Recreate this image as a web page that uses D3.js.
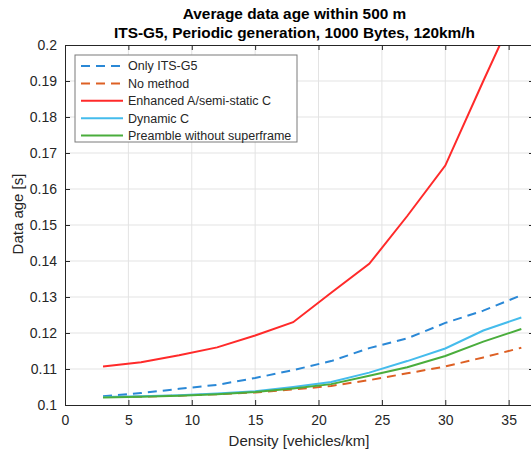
<html>
<style>
    body { margin: 0; background: #fff; }
    text { font-family: "Liberation Sans", Arial, sans-serif; fill: #262626; }
    .grid line { stroke: #e3e3e3; stroke-width: 1; }
</style>
<body>
<script src="https://d3js.org/d3.v7.min.js"></script>
<script>
// data
const density = [3, 6, 9, 12, 15, 18, 21, 24, 27, 30, 33, 36]
const onlyItsG5 = [0.1024, 0.1033, 0.1045, 0.1056, 0.1075, 0.1097, 0.1122, 0.1158, 0.1185, 0.1228, 0.1262, 0.1305]
const noMethod = [0.1022, 0.1023, 0.1026, 0.1030, 0.1035, 0.1043, 0.1053, 0.1069, 0.1088, 0.1107, 0.1132, 0.1159]
const enhancedA = [0.1107, 0.1119, 0.1138, 0.1160, 0.1193, 0.1230, 0.1312, 0.1392, 0.1525, 0.1665, 0.1900, 0.2130]
const dynamicC = [0.1022, 0.1024, 0.1027, 0.1032, 0.1038, 0.1050, 0.1064, 0.1090, 0.1122, 0.1157, 0.1207, 0.1243]
const preamble = [0.1021, 0.1023, 0.1026, 0.1030, 0.1036, 0.1046, 0.1058, 0.1081, 0.1105, 0.1136, 0.1176, 0.1211]

const seriesNames = ["Only ITS-G5", "No method", "Enhanced A/semi-static C", "Dynamic C", "Preamble without superframe"]
const seriesValues = [onlyItsG5, noMethod, enhancedA, dynamicC, preamble]
const seriesColors = ["#2a88d6", "#dd6024", "#ff2a2a", "#45bcec", "#4aad3c"]
const seriesDash = ["9,6", "9,6", null, null, null]

const xTicks = [0, 5, 10, 15, 20, 25, 30, 35]
const yTicks = [0.1, 0.11, 0.12, 0.13, 0.14, 0.15, 0.16, 0.17, 0.18, 0.19, 0.2]
const titleLines = ["Average data age within 500 m", "ITS-G5, Periodic generation, 1000 Bytes, 120km/h"]

const W = 531, H = 452
const plot = {left: 65, top: 45, right: 534, bottom: 405}

const svg = d3.select("body").append("svg")
    .attr("width", W).attr("height", H)

const x = d3.scaleLinear().domain([0, 37]).range([plot.left, plot.right])
const y = d3.scaleLinear().domain([0.1, 0.2]).range([plot.bottom, plot.top])

// grid
const grid = svg.append("g").attr("class", "grid")
grid.selectAll(".gx").data(xTicks.slice(1)).join("line")
    .attr("x1", d => x(d)).attr("x2", d => x(d))
    .attr("y1", plot.top).attr("y2", plot.bottom)
grid.selectAll(".gy").data(yTicks.slice(1, -1)).join("line")
    .attr("x1", plot.left).attr("x2", plot.right)
    .attr("y1", d => y(d)).attr("y2", d => y(d))

// clip for the lines
svg.append("clipPath").attr("id", "clip").append("rect")
    .attr("x", plot.left).attr("y", plot.top)
    .attr("width", plot.right - plot.left).attr("height", plot.bottom - plot.top)

const line = d3.line().x((d, i) => x(density[i])).y(d => y(d))
svg.append("g").attr("clip-path", "url(#clip)")
    .selectAll("path").data(seriesValues).join("path")
    .attr("d", line)
    .attr("fill", "none")
    .attr("stroke", (d, i) => seriesColors[i])
    .attr("stroke-width", 2)
    .attr("stroke-dasharray", (d, i) => seriesDash[i])

// axes (MATLAB style: ticks inside, box on)
const axisColor = "#262626"
const xAxis = svg.append("g").attr("transform", `translate(0,${plot.bottom})`)
    .call(d3.axisBottom(x).tickValues(xTicks).tickSize(-5).tickPadding(10).tickSizeOuter(0))
const yAxis = svg.append("g").attr("transform", `translate(${plot.left},0)`)
    .call(d3.axisLeft(y).tickValues(yTicks).tickSize(-5).tickPadding(8).tickSizeOuter(0)
        .tickFormat(d => String(+d.toFixed(2))))
const xTop = svg.append("g").attr("transform", `translate(0,${plot.top})`)
    .call(d3.axisTop(x).tickValues(xTicks).tickSize(-5).tickSizeOuter(0).tickFormat(""))
const yRight = svg.append("g").attr("transform", `translate(${plot.right},0)`)
    .call(d3.axisRight(y).tickValues(yTicks).tickSize(-5).tickSizeOuter(0).tickFormat(""))

for (const a of [xAxis, yAxis, xTop, yRight]) {
    a.selectAll("path, line").attr("stroke", axisColor)
    a.selectAll("text").attr("font-size", 14).attr("fill", axisColor)
        .attr("font-family", "Liberation Sans, Arial, sans-serif")
}

// labels
svg.append("text").attr("x", 299).attr("y", 446)
    .attr("text-anchor", "middle").attr("font-size", 15).text("Density [vehicles/km]")
svg.append("text").attr("transform", "translate(23,214) rotate(-90)")
    .attr("text-anchor", "middle").attr("font-size", 15).text("Data age [s]")

svg.selectAll(".title").data(titleLines).join("text")
    .attr("x", 294.5).attr("y", (d, i) => 19 + i * 18.5)
    .attr("text-anchor", "middle").attr("font-size", 15.4).attr("font-weight", "bold")
    .style("fill", "#000")
    .text(d => d)

// legend
const lg = svg.append("g").attr("transform", "translate(75,55)")
lg.append("rect").attr("width", 222).attr("height", 87)
    .attr("fill", "#fff").attr("stroke", "#7a7a7a").attr("stroke-width", 1)
const items = lg.selectAll(".item").data(seriesNames).join("g")
    .attr("transform", (d, i) => `translate(0,${11 + i * 17.4})`)
items.append("line").attr("x1", 6).attr("x2", 48)
    .attr("stroke", (d, i) => seriesColors[i]).attr("stroke-width", 2)
    .attr("stroke-dasharray", (d, i) => seriesDash[i])
items.append("text").attr("x", 53).attr("dy", "0.35em")
    .attr("font-size", 12.5).text(d => d)
</script>
</body>
</html>
